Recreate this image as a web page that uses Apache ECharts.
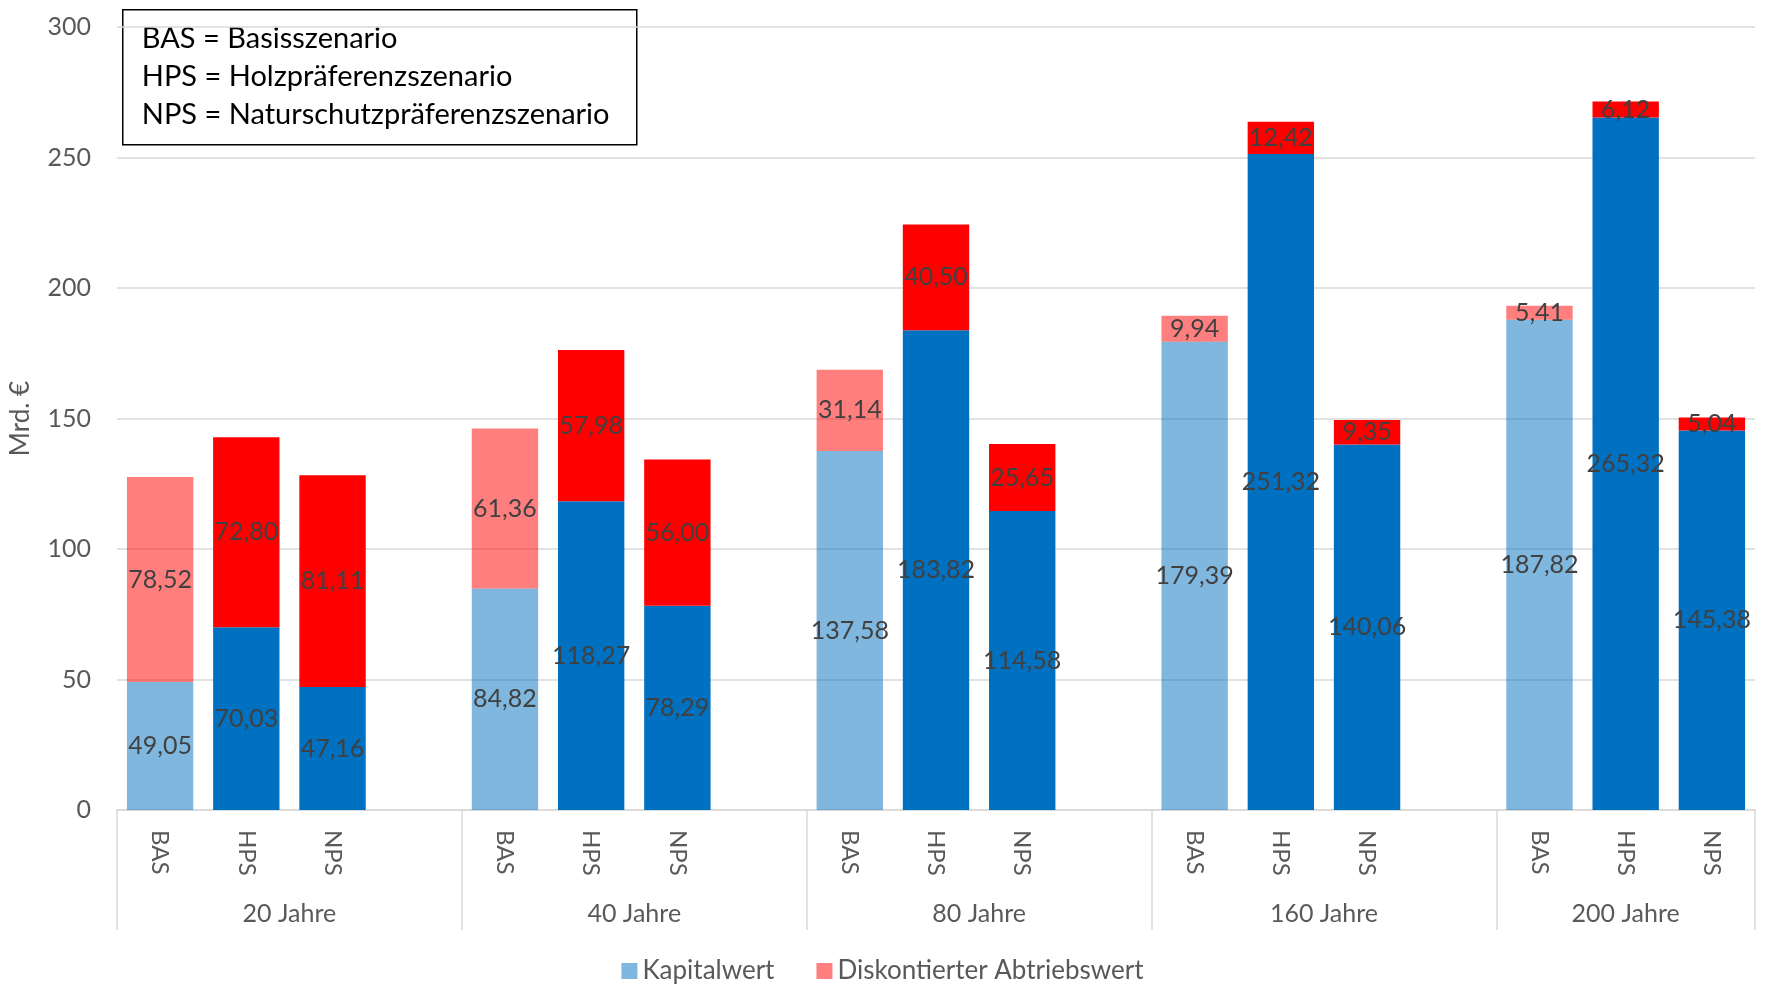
<!DOCTYPE html>
<html>
<head>
<meta charset="utf-8">
<title>Kapitalwert und Abtriebswert nach Szenario</title>
<script src="https://cdn.jsdelivr.net/npm/echarts@6/dist/echarts.min.js"></script>
<style>
  html, body { margin: 0; padding: 0; background: #ffffff; }
  #chart { width: 1765px; height: 984px; }
</style>
</head>
<body>
<div id="chart"></div>
<script>
// Zeithorizonte (äußere Kategorien) und Szenarien (innere Kategorien)
const groups = ['20 Jahre', '40 Jahre', '80 Jahre', '160 Jahre', '200 Jahre'];
const scenarios = ['BAS', 'HPS', 'NPS'];

// Kapitalwert in Mrd. € je Zeithorizont
const kapitalBAS = [49.05, 84.82, 137.58, 179.39, 187.82];
const kapitalHPS = [70.03, 118.27, 183.82, 251.32, 265.32];
const kapitalNPS = [47.16, 78.29, 114.58, 140.06, 145.38];

// Diskontierter Abtriebswert in Mrd. € je Zeithorizont
const abtriebBAS = [78.52, 61.36, 31.14, 9.94, 5.41];
const abtriebHPS = [72.80, 57.98, 40.50, 12.42, 6.12];
const abtriebNPS = [81.11, 56.00, 25.65, 9.35, 5.04];

// y-Achse
const yTicks = { min: 0, max: 300, interval: 50 };

const FONT = 'Lato';
const BLUE = '#0070C0', BLUE_LIGHT = 'rgba(0,112,192,0.5)';
const RED = '#FF0000', RED_LIGHT = 'rgba(255,0,0,0.5)';

// Kategorien: je Gruppe drei Szenarien, danach eine leere Lücke (außer nach der letzten Gruppe)
const categories = [];
const kapitalData = [];
const abtriebData = [];
const groupStart = [];
const groupSize = [];
const kapital = { BAS: kapitalBAS, HPS: kapitalHPS, NPS: kapitalNPS };
const abtrieb = { BAS: abtriebBAS, HPS: abtriebHPS, NPS: abtriebNPS };
groups.forEach((g, gi) => {
  groupStart.push(categories.length);
  scenarios.forEach(s => {
    categories.push(s);
    const light = s === 'BAS';
    kapitalData.push({ value: kapital[s][gi], itemStyle: { color: light ? BLUE_LIGHT : BLUE } });
    abtriebData.push({ value: abtrieb[s][gi], itemStyle: { color: light ? RED_LIGHT : RED } });
  });
  if (gi < groups.length - 1) {
    categories.push('');
    kapitalData.push('-');
    abtriebData.push('-');
  }
  groupSize.push(categories.length - groupStart[gi]);
});
const nCat = categories.length;
const groupCenters = groupStart.map((s, i) => s + groupSize[i] / 2);
const groupBounds = groupStart.concat([nCat]);

const fmt = v => v.toFixed(2).replace('.', ',');

const barLabel = {
  show: true,
  position: 'inside',
  color: '#404040',
  fontFamily: FONT,
  fontSize: 25,
  formatter: p => fmt(p.value)
};

const chart = echarts.init(document.getElementById('chart'), null, { renderer: 'canvas' });
chart.setOption({
  animation: false,
  backgroundColor: '#ffffff',
  textStyle: { fontFamily: FONT },
  grid: { left: 115, right: 10, top: 27, bottom: 174, containLabel: false },
  legend: {
    left: 'center',
    top: 953,
    itemWidth: 16,
    itemHeight: 16,
    itemGap: 42,
    icon: 'rect',
    textStyle: { color: '#595959', fontSize: 26, fontFamily: FONT },
    data: ['Kapitalwert', 'Diskontierter Abtriebswert']
  },
  xAxis: [
    {
      type: 'category',
      data: categories,
      axisLine: { show: true, lineStyle: { color: '#D9D9D9', width: 1.5 } },
      axisTick: { show: false },
      axisLabel: {
        interval: 0,
        rotate: -90,
        margin: 20,
        color: '#595959',
        fontFamily: FONT,
        fontSize: 24
      }
    },
    {
      type: 'value',
      position: 'bottom',
      offset: 0,
      min: 0,
      max: nCat,
      axisLine: { show: false },
      splitLine: { show: false },
      axisTick: {
        show: true,
        customValues: groupBounds,
        length: 120,
        lineStyle: { color: '#D9D9D9', width: 1.5 }
      },
      axisLabel: {
        customValues: groupCenters,
        margin: 91,
        color: '#595959',
        fontFamily: FONT,
        fontSize: 25,
        formatter: v => {
          const i = groupCenters.findIndex(c => Math.abs(c - v) < 1e-6);
          return i >= 0 ? groups[i] : '';
        }
      }
    }
  ],
  yAxis: {
    type: 'value',
    min: yTicks.min,
    max: yTicks.max,
    interval: yTicks.interval,
    name: 'Mrd. €',
    nameLocation: 'middle',
    nameGap: 83,
    nameRotate: 90,
    nameTextStyle: { color: '#595959', fontSize: 26, fontFamily: FONT },
    axisLine: { show: false },
    axisTick: { show: false },
    axisLabel: { color: '#595959', fontSize: 25, fontFamily: FONT, margin: 26 },
    splitLine: { lineStyle: { color: '#D9D9D9', width: 1.5 } }
  },
  series: [
    {
      name: 'Kapitalwert',
      type: 'bar',
      stack: 'gesamt',
      barWidth: '77%',
      itemStyle: { color: BLUE_LIGHT },
      label: barLabel,
      data: kapitalData
    },
    {
      name: 'Diskontierter Abtriebswert',
      type: 'bar',
      stack: 'gesamt',
      barWidth: '77%',
      itemStyle: { color: RED_LIGHT },
      label: barLabel,
      data: abtriebData
    }
  ],
  graphic: [
    {
      type: 'group',
      left: 122,
      top: 9,
      children: [
        {
          type: 'rect',
          shape: { x: 0, y: 0, width: 514, height: 135 },
          style: { fill: '#ffffff', stroke: '#000000', lineWidth: 1.5 }
        },
        {
          type: 'text',
          x: 19,
          y: 10,
          style: {
            text: 'BAS = Basisszenario\nHPS = Holzpräferenzszenario\nNPS = Naturschutzpräferenzszenario',
            fill: '#000000',
            font: '29px Lato',
            lineHeight: 38
          }
        }
      ]
    }
  ]
});
</script>
</body>
</html>
